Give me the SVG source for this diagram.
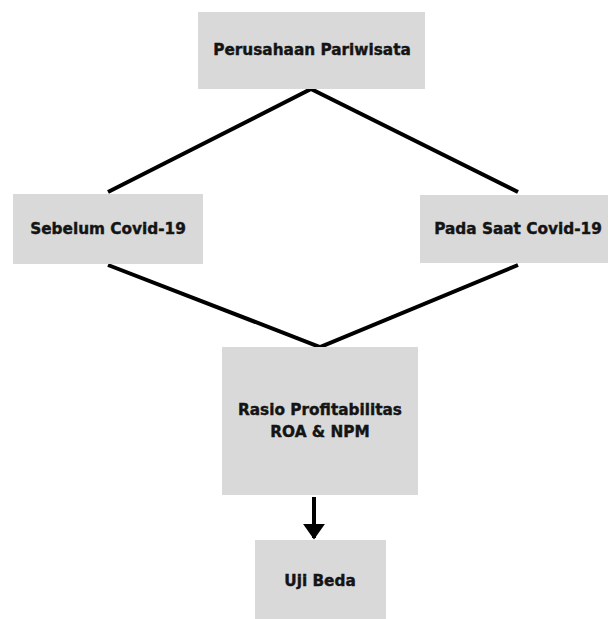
<svg xmlns="http://www.w3.org/2000/svg" width="608" height="619" viewBox="0 0 608 619">
<style>
.box{fill:#d9d9d9}
.t{font-family:"DejaVu Sans","Liberation Sans",sans-serif;font-weight:bold;font-size:15.3px;fill:#141414;stroke:#141414;stroke-width:0.4;text-anchor:middle;dominant-baseline:central}
.c{stroke:#000;stroke-width:4;fill:none}
</style>
<defs>
<marker id="ah" markerWidth="4" markerHeight="5.6" refX="3.6" refY="2.8" orient="auto" markerUnits="strokeWidth"><path d="M0,0 L4,2.8 L0,5.6 Z" fill="#000"/></marker>
</defs>
<rect width="608" height="619" fill="#fff"/>
<g id="connectors">
<path class="c" d="M108,192 L311,89 L518,192"/>
<path class="c" d="M108,265 L320,347 L518,265"/>
<path class="c" d="M314,497 L314,538" marker-end="url(#ah)"/>
</g>
<g id="perusahaan"><rect class="box" x="198" y="12" width="227" height="77"/><text class="t" x="312" y="50">Perusahaan Pariwisata</text></g>
<g id="sebelum"><rect class="box" x="13" y="194" width="190" height="70"/><text class="t" x="108" y="229">Sebelum Covid-19</text></g>
<g id="pada"><rect class="box" x="420" y="195" width="188" height="68"/><text class="t" x="518" y="229">Pada Saat Covid-19</text></g>
<g id="rasio"><rect class="box" x="222" y="347" width="196" height="148"/><text class="t" x="320" y="410">Rasio Profitabilitas</text><text class="t" x="320" y="432">ROA &amp; NPM</text></g>
<g id="uji"><rect class="box" x="255" y="540" width="131" height="79"/><text class="t" x="320" y="581">Uji Beda</text></g>
</svg>
